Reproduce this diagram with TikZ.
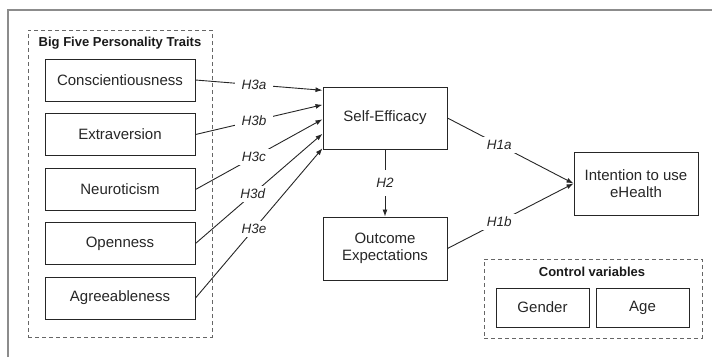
\documentclass[tikz,border=0pt]{standalone}
\usepackage{fontspec}
\setmainfont{Liberation Sans}
\usetikzlibrary{arrows.meta,calc}

\tikzset{
  var/.style={draw=black!85, line width=1pt, inner sep=0pt, align=center,
    text=black!85, font=\fontsize{15}{17}\selectfont},
  trait/.style={var, minimum width=150pt, minimum height=42pt},
  construct/.style={var, minimum width=124pt, minimum height=62pt},
  ctrl/.style={var, minimum width=93pt, minimum height=39pt},
  group/.style={draw=black!60, line width=1pt, dash pattern=on 4pt off 3pt, inner sep=0pt},
  grouptitle/.style={font=\fontsize{13}{15}\selectfont\bfseries, text=black!90, inner sep=0pt},
  link/.style={draw=black!85, line width=0.9pt, -{Latex[length=7pt,width=5pt]}},
  hyp/.style={font=\fontsize{13.5}{15}\selectfont\itshape, text=black!85, fill=white,
    inner xsep=7pt, inner ysep=3pt},
  frame/.style={draw=black!45, line width=1.8pt}
}

\begin{document}
\begin{tikzpicture}[x=1pt,y=-1pt]
\useasboundingbox (0,0) rectangle (712,357);

% outer frame (top and left edges only)
\coordinate (fbl) at (8,357);
\coordinate (ftl) at (8,10);
\coordinate (ftr) at (712,10);
\draw[frame] (fbl) -- (ftl) -- (ftr);

% Big Five group
\node[group, minimum width=184pt, minimum height=307pt] (bf) at (120,183.5) {};
\node[grouptitle] (bft) at (120,43) {Big Five Personality Traits};
\node[trait] (c1) at (120,80)    {Conscientiousness};
\node[trait] (c2) at (120,134.5) {Extraversion};
\node[trait] (c3) at (120,189.5) {Neuroticism};
\node[trait] (c4) at (120,243.5) {Openness};
\node[trait] (c5) at (120,298)   {Agreeableness};

% core constructs
\node[construct] (se) at (385,118) {Self-Efficacy};
\node[construct, minimum height=63pt] (oe) at (385,248.5) {Outcome\\Expectations};
\node[construct, minimum height=63pt] (it) at (636,183.5) {Intention to use\\eHealth};

% control variables
\node[group, minimum width=218pt, minimum height=79pt] (cv) at (593,298.5) {};
\node[grouptitle] (cvt) at (592,272) {Control variables};
\node[ctrl] (gen) at (542.5,307.5) {Gender};
\node[ctrl] (age) at (642.5,307.5) {Age};

% H3 paths into self-efficacy
\draw[link] (c1.east) -- node[hyp, pos=0.46] {H3a} ($(se.north west)!0.06!(se.south west)$);
\draw[link] (c2.east) -- node[hyp, pos=0.46] {H3b} ($(se.north west)!0.29!(se.south west)$);
\draw[link] (c3.east) -- node[hyp, pos=0.46] {H3c} ($(se.north west)!0.52!(se.south west)$);
\draw[link] (c4.east) -- node[hyp, pos=0.45] {H3d} ($(se.north west)!0.75!(se.south west)$);
\draw[link] (c5.east) -- node[hyp, pos=0.46] {H3e} ($(se.north west)!0.98!(se.south west)$);

% H2 and H1 paths
\draw[link] (se.south) -- node[hyp, inner ysep=8pt, inner xsep=3pt] {H2} (oe.north);
\draw[link] (se.east) -- node[hyp, pos=0.41] {H1a} (it.west);
\draw[link] (oe.east) -- node[hyp, pos=0.41] {H1b} (it.west);
\end{tikzpicture}
\end{document}
